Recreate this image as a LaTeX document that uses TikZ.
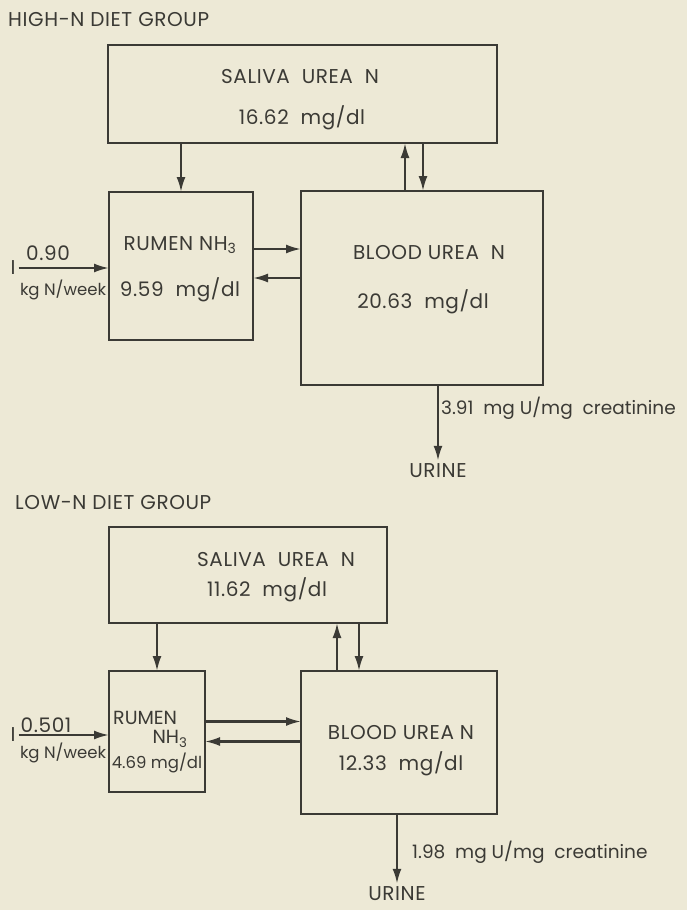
\documentclass[tikz,border=0pt]{standalone}
\usepackage{fontspec}
\setmainfont{Poppins}
\usetikzlibrary{arrows.meta,positioning,calc}
\definecolor{paper}{HTML}{EDE9D6}
\definecolor{ink}{HTML}{3B3A35}

\begin{document}
\begin{tikzpicture}[x=1pt,y=-1pt, >={Latex[length=15pt,width=9pt]},
  box/.style={draw=ink,line width=1.8pt,outer sep=0pt,inner sep=0pt,anchor=north west},
  lbl/.style={text=ink,inner sep=0pt,font=\fontsize{20}{20}\selectfont\addfontfeature{LetterSpace=3}},
  small/.style={text=ink,inner sep=0pt,font=\fontsize{16.5}{16.5}\selectfont},
  flow/.style={->,draw=ink,line width=2.2pt}]
\fill[paper] (0,0) rectangle (687,910);
\useasboundingbox (0,0) rectangle (687,910);

% high-N group
\node[lbl,anchor=west] (title1) at (8,20) {HIGH-N DIET GROUP};
\node[box,minimum width=389,minimum height=98] (sal1) at (108,45) {};
\node[box,minimum width=144,minimum height=148] (rum1) at (109,192) {};
\node[box,minimum width=242,minimum height=194] (bld1) at (301,191) {};
\node[lbl] (salt1) at (300,77) {SALIVA\ \ UREA\ \ N};
\node[lbl] (salv1) at (302,118) {16.62\ \ mg/dl};
\node[lbl] (rumt1) at (180,245) {RUMEN NH\textsubscript{3}};
\node[lbl] (rumv1) at (180,290) {9.59\ \ mg/dl};
\node[lbl] (bldt1) at (429,253) {BLOOD\ UREA\ \ N};
\node[lbl] (bldv1) at (423,302) {20.63\ \ mg/dl};
\node[lbl,inner sep=3pt] (in1) at (13,268) {I};
\node[lbl] (inq1) at (48,253) {0.90};
\node[small] (inu1) at (63,290) {kg N/week};
\node[lbl,inner sep=3pt] (urn1) at (438,471) {URINE};
\node[small,anchor=west,font=\fontsize{18.5}{18.5}\selectfont] (ex1) at (441,408) {3.91\ \ mg U/mg\ \ creatinine};

\draw[flow] (in1.east) -- (in1.east -| rum1.west);
\draw[flow] (sal1.south -| rum1.north) -- (rum1.north);
\draw[flow] ([xshift=-17]bld1.north) -- ([xshift=-17]bld1.north |- sal1.south);
\draw[flow] ([xshift=1]bld1.north |- sal1.south) -- ([xshift=1]bld1.north);
\draw[flow] ([yshift=17]rum1.east) -- ([yshift=17]rum1.east -| bld1.west);
\draw[flow] ([yshift=-12]rum1.east -| bld1.west) -- ([yshift=-12]rum1.east);
\draw[flow] (urn1.north |- bld1.south) -- (urn1.north);

% low-N group
\node[lbl,anchor=west] (title2) at (15,503) {LOW-N DIET GROUP};
\node[box,minimum width=278,minimum height=96] (sal2) at (109,527) {};
\node[box,minimum width=96,minimum height=121] (rum2) at (109,671) {};
\node[box,minimum width=196,minimum height=143] (bld2) at (301,671) {};
\node[lbl] (salt2) at (276,560) {SALIVA\ \ UREA\ \ N};
\node[lbl] (salv2) at (267,590) {11.62\ \ mg/dl};
\node[lbl,anchor=west,font=\fontsize{19}{19}\selectfont] (rumt2) at (113,718) {RUMEN};
\node[lbl,font=\fontsize{19}{19}\selectfont] (rumn2) at (170,739) {NH\textsubscript{3}};
\node[small] (rumv2) at (157,763) {4.69 mg/dl};
\node[lbl] (bldt2) at (401,733) {BLOOD\ UREA\ N};
\node[lbl] (bldv2) at (401,764) {12.33\ \ mg/dl};
\node[lbl,inner sep=3pt] (in2) at (13,735) {I};
\node[lbl] (inq2) at (46,725) {0.501};
\node[small] (inu2) at (63,753) {kg N/week};
\node[lbl,inner sep=3pt] (urn2) at (397,894) {URINE};
\node[small,anchor=west,font=\fontsize{18.5}{18.5}\selectfont] (ex2) at (412,852) {1.98\ \ mg U/mg\ \ creatinine};

\draw[flow] (in2.east) -- (in2.east -| rum2.west);
\draw[flow] (sal2.south -| rum2.north) -- (rum2.north);
\draw[flow] ([xshift=-62]bld2.north) -- ([xshift=-62]bld2.north |- sal2.south);
\draw[flow] ([xshift=-40]bld2.north |- sal2.south) -- ([xshift=-40]bld2.north);
\draw[flow] ([yshift=10]rum2.east) -- ([yshift=10]rum2.east -| bld2.west);
\draw[flow] ([yshift=-10]rum2.east -| bld2.west) -- ([yshift=-10]rum2.east);
\draw[flow] (urn2.north |- bld2.south) -- (urn2.north);
\end{tikzpicture}
\end{document}
